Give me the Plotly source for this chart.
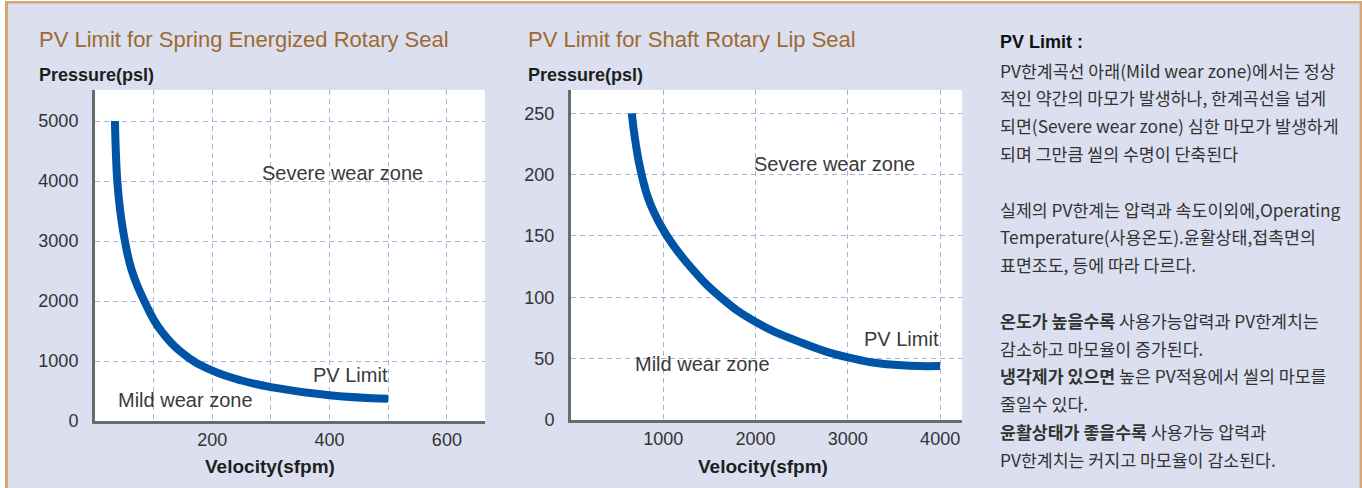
import plotly.graph_objects as go

W, H = 1362, 488

# ---------------- data ----------------
left_velocity = [34, 35.5, 38, 43, 51, 63, 84, 113, 160, 200, 250, 300, 400, 500]
left_pressure = [5000, 4500, 4000, 3500, 3000, 2500, 2000, 1500, 1050, 840, 675, 565, 430, 372]

right_velocity = [659, 700, 759, 860, 1040, 1292, 1623, 2000, 2500, 3000, 3500, 4000]
right_pressure = [250, 226, 202, 176, 150, 125, 100, 80, 63, 51, 45, 44]

left_x_tickvals = [100, 200, 300, 400, 500, 600]
left_x_ticktext = ["", "200", "", "400", "", "600"]
left_y_tickvals = [0, 1000, 2000, 3000, 4000, 5000]
right_x_tickvals = [1000, 2000, 3000, 4000]
right_y_tickvals = [0, 50, 100, 150, 200, 250]

left_title = "PV Limit for Spring Energized Rotary Seal"
right_title = "PV Limit for Shaft Rotary Lip Seal"
y_title = "Pressure(psl)"
x_title = "Velocity(sfpm)"

panel_header = "PV Limit :"
panel_lines = [
    "PV한계곡선 아래(Mild wear zone)에서는 정상",
    "적인 약간의 마모가 발생하나, 한계곡선을 넘게",
    "되면(Severe wear zone) 심한 마모가 발생하게",
    "되며 그만큼 씰의 수명이 단축된다",
    "",
    "실제의 PV한계는 압력과 속도이외에,Operating",
    "Temperature(사용온도).윤활상태,접촉면의",
    "표면조도, 등에 따라 다르다.",
    "",
    "<b>온도가 높을수록</b> 사용가능압력과 PV한계치는",
    "감소하고 마모율이 증가된다.",
    "<b>냉각제가 있으면</b> 높은 PV적용에서 씰의 마모를",
    "줄일수 있다.",
    "<b>윤활상태가 좋을수록</b> 사용가능 압력과",
    "PV한계치는 커지고 마모율이 감소된다.",
]

# ---------------- styling ----------------
BG = "#DCDFEF"
BORDER = "#D9A677"
CURVE = "#0054A6"
GRID = "#A9B3DE"
AXLINE = "#6B6B6B"
TITLE_C = "#9C6B30"
TXT = "#333333"
LAT = "Liberation Sans, Arial, sans-serif"
KR = "Noto Sans CJK KR, sans-serif"


def fx(px):
    return px / W


def fy(py):
    return 1 - py / H


fig = go.Figure()
fig.add_trace(go.Scatter(x=left_velocity, y=left_pressure, mode="lines",
                         line=dict(color=CURVE, width=8, shape="spline", smoothing=1.3),
                         xaxis="x", yaxis="y", showlegend=False, hoverinfo="skip"))
fig.add_trace(go.Scatter(x=right_velocity, y=right_pressure, mode="lines",
                         line=dict(color=CURVE, width=8, shape="spline", smoothing=1.3),
                         xaxis="x2", yaxis="y2", showlegend=False, hoverinfo="skip"))

common = dict(showline=True, linecolor=AXLINE, linewidth=3, showgrid=True,
              gridcolor=GRID, griddash="5px,4px", gridwidth=1, zeroline=False,
              ticks="", tickfont=dict(family=LAT, size=18, color=TXT),
              fixedrange=True, automargin=False)

fig.update_layout(
    width=W, height=H, autosize=False,
    margin=dict(l=0, r=0, t=0, b=0, pad=0, autoexpand=False),
    paper_bgcolor=BG, plot_bgcolor="white",
    xaxis=dict(domain=[fx(95), fx(485)], range=[0, 665], anchor="y",
               tickvals=left_x_tickvals, ticktext=left_x_ticktext,
               ticklabelstandoff=0, **common),
    yaxis=dict(domain=[fy(421), fy(90)], range=[0, 5517], anchor="x",
               tickvals=left_y_tickvals, ticklabelstandoff=10, **common),
    xaxis2=dict(domain=[fx(571), fx(962)], range=[0, 4237], anchor="y2",
                tickvals=right_x_tickvals, ticklabelstandoff=0, **common),
    yaxis2=dict(domain=[fy(420), fy(90)], range=[0, 269], anchor="x2",
                tickvals=right_y_tickvals, ticklabelstandoff=10, **common),
)

shapes = [
    dict(type="rect", xref="paper", yref="paper", x0=0, x1=fx(5), y0=0, y1=1,
         fillcolor="white", line=dict(width=0), layer="below"),
    dict(type="rect", xref="paper", yref="paper", x0=0, x1=1, y0=fy(1), y1=1,
         fillcolor="white", line=dict(width=0), layer="below"),
    dict(type="line", xref="paper", yref="paper", x0=fx(6.5), x1=fx(6.5), y0=0, y1=fy(1),
         line=dict(color=BORDER, width=3)),
    dict(type="line", xref="paper", yref="paper", x0=fx(5), x1=1, y0=fy(2.3), y1=fy(2.3),
         line=dict(color=BORDER, width=2.5)),
    dict(type="line", xref="paper", yref="paper", x0=fx(1360.8), x1=fx(1360.8), y0=0, y1=fy(1),
         line=dict(color=BORDER, width=2.5)),
]
fig.update_layout(shapes=shapes)

ann = []


def paper_text(text, px, py, size, color, family, xanchor="left", bold=False):
    if bold:
        text = "<b>" + text + "</b>"
    ann.append(dict(text=text, x=fx(px), y=fy(py), xref="paper", yref="paper",
                    xanchor=xanchor, yanchor="middle", showarrow=False,
                    font=dict(family=family, size=size, color=color)))


# chart titles
paper_text(left_title, 37, 40, 22, TITLE_C, LAT)
paper_text(right_title, 526, 40, 22, TITLE_C, LAT)
# axis titles
paper_text(y_title, 37, 75, 18, "#1E1E1E", LAT, bold=True)
paper_text(y_title, 526, 75, 18, "#1E1E1E", LAT, bold=True)
paper_text(x_title, 270, 466, 19, "#1E1E1E", LAT, xanchor="center", bold=True)
paper_text(x_title, 763, 466, 19, "#1E1E1E", LAT, xanchor="center", bold=True)


def data_text(text, x, y, xr, yr, xanchor):
    ann.append(dict(text=text, x=x, y=y, xref=xr, yref=yr, xanchor=xanchor,
                    yanchor="middle", showarrow=False,
                    font=dict(family=LAT, size=20, color="#3A3A3A")))


data_text("Severe wear zone", 282, 4140, "x", "y", "left")
data_text("Mild wear zone", 35, 345, "x", "y", "left")
data_text("PV Limit", 503, 760, "x", "y", "right")
data_text("Severe wear zone", 1965, 209, "x2", "y2", "left")
data_text("Mild wear zone", 670, 46, "x2", "y2", "left")
data_text("PV Limit", 4010, 66, "x2", "y2", "right")

# side panel
paper_text(panel_header, 998, 42, 18, "#111111", LAT, bold=True)
for i, line in enumerate(panel_lines):
    if line:
        paper_text(line, 998, 70 + i * 27.8, 17.3, TXT, KR)

fig.update_layout(annotations=ann)
fig.write_html(
    "out.html",
    config={"responsive": False, "displayModeBar": False, "staticPlot": True},
    post_script="document.body.style.margin='0';document.body.style.padding='0';"
                "document.body.style.overflow='hidden';",
)
